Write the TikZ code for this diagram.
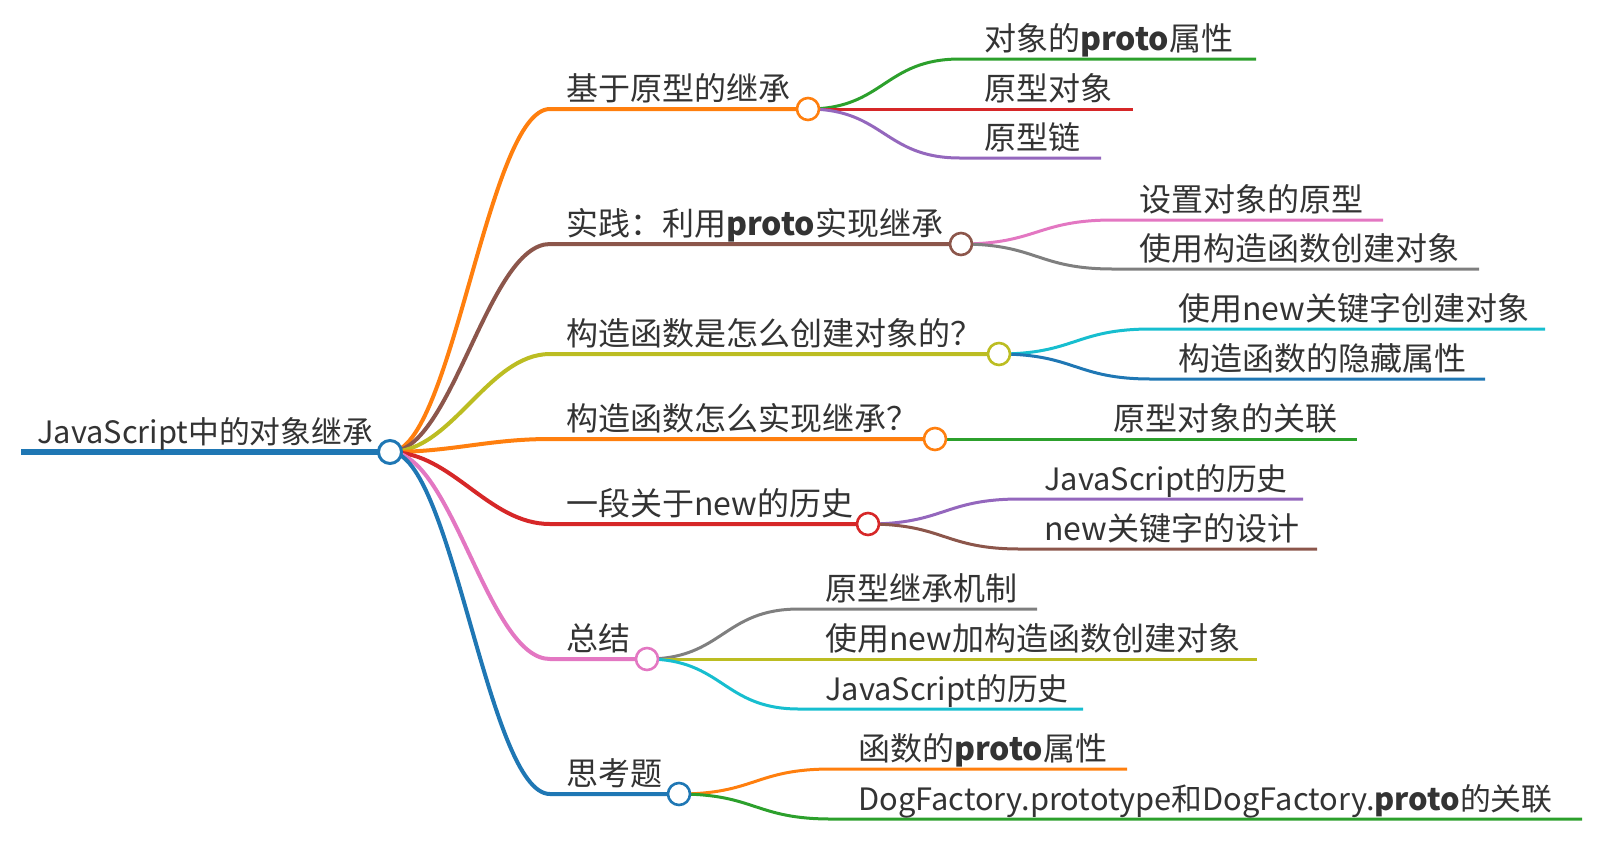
\documentclass[tikz,border=0pt]{standalone}
\usepackage{fontspec}
\setmainfont{Noto Sans CJK SC}
\usetikzlibrary{backgrounds}
\definecolor{cOrange}{HTML}{FF7F0E}
\definecolor{cBrown}{HTML}{8C564B}
\definecolor{cOlive}{HTML}{BCBD22}
\definecolor{cRed}{HTML}{D62728}
\definecolor{cPink}{HTML}{E377C2}
\definecolor{cBlue}{HTML}{1F77B4}
\definecolor{cGreen}{HTML}{2CA02C}
\definecolor{cPurple}{HTML}{9467BD}
\definecolor{cGray}{HTML}{7F7F7F}
\definecolor{cCyan}{HTML}{17BECF}
\tikzset{
  dot/.style={circle, draw=#1, fill=white, line width=2.6pt, minimum size=22pt, inner sep=0pt},
  lbl/.style={anchor=base west, inner sep=0pt, text=black!80, font=\fontsize{32}{36}\selectfont},
  narrow/.style={font=\fontsize{30.8}{36}\selectfont},
  trunk/.style={draw=#1, line width=6.5pt},
  limb/.style={draw=#1, line width=4pt},
  twig/.style={draw=#1, line width=3pt},
  bend/.style={to path={.. controls +(#1,0) and +(-#1,0) .. (\tikztotarget)}}
}

\begin{document}
\begin{tikzpicture}[x=1pt, y=-1pt]
\useasboundingbox (0,0) rectangle (1624,844);

% root
\coordinate (r0) at (21,452);
\node[dot=cBlue, minimum size=23pt, line width=3pt] (root) at (390,452) {};
\node[lbl, narrow] (rootT) at (37,443) {JavaScript中的对象继承};

% first level
\node[dot=cOrange] (b1) at (808,109) {};
\node[dot=cBrown] (b2) at (961,244) {};
\node[dot=cOlive] (b3) at (999,354) {};
\node[dot=cOrange] (b4) at (935,439) {};
\node[dot=cRed] (b5) at (868,524) {};
\node[dot=cPink] (b6) at (647,659) {};
\node[dot=cBlue] (b7) at (679,794) {};
\coordinate (h1) at (550,109);
\coordinate (h2) at (550,244);
\coordinate (h3) at (550,354);
\coordinate (h4) at (550,439);
\coordinate (h5) at (550,524);
\coordinate (h6) at (550,659);
\coordinate (h7) at (550,794);
\node[lbl] (t1) at (566,100) {基于原型的继承};
\node[lbl] (t2) at (566,235) {实践：利用\textbf{proto}实现继承};
\node[lbl] (t3) at (566,345) {构造函数是怎么创建对象的？};
\node[lbl] (t4) at (566,430) {构造函数怎么实现继承？};
\node[lbl] (t5) at (566,515) {一段关于new的历史};
\node[lbl] (t6) at (566,650) {总结};
\node[lbl] (t7) at (566,785) {思考题};

% second level
\coordinate (s11) at (960,59);   \coordinate (e11) at (1256,59);
\coordinate (s12) at (960,109);  \coordinate (e12) at (1133,109);
\coordinate (s13) at (960,158);  \coordinate (e13) at (1101,158);
\coordinate (s21) at (1113,220); \coordinate (e21) at (1383,220);
\coordinate (s22) at (1113,269); \coordinate (e22) at (1479,269);
\coordinate (s31) at (1151,329); \coordinate (e31) at (1545,329);
\coordinate (s32) at (1151,379); \coordinate (e32) at (1485,379);
\coordinate (s41) at (1087,439); \coordinate (e41) at (1357,439);
\coordinate (s51) at (1020,499); \coordinate (e51) at (1303,499);
\coordinate (s52) at (1020,549); \coordinate (e52) at (1317,549);
\coordinate (s61) at (799,609);  \coordinate (e61) at (1037,609);
\coordinate (s62) at (799,659);  \coordinate (e62) at (1257,659);
\coordinate (s63) at (799,709);  \coordinate (e63) at (1083,709);
\coordinate (s71) at (831,769);  \coordinate (e71) at (1127,769);
\coordinate (s72) at (831,819);  \coordinate (e72) at (1582,819);
\node[lbl] (t11) at (984,50) {对象的\textbf{proto}属性};
\node[lbl] (t12) at (984,100) {原型对象};
\node[lbl] (t13) at (984,149) {原型链};
\node[lbl] (t21) at (1139,211) {设置对象的原型};
\node[lbl] (t22) at (1139,260) {使用构造函数创建对象};
\node[lbl] (t31) at (1178,320) {使用new关键字创建对象};
\node[lbl] (t32) at (1178,370) {构造函数的隐藏属性};
\node[lbl] (t41) at (1113,430) {原型对象的关联};
\node[lbl, narrow] (t51) at (1044,490) {JavaScript的历史};
\node[lbl] (t52) at (1044,540) {new关键字的设计};
\node[lbl] (t61) at (825,600) {原型继承机制};
\node[lbl] (t62) at (825,650) {使用new加构造函数创建对象};
\node[lbl, narrow] (t63) at (825,700) {JavaScript的历史};
\node[lbl] (t71) at (858,760) {函数的\textbf{proto}属性};
\node[lbl, narrow] (t72) at (858,810) {DogFactory.prototype和DogFactory.\textbf{proto}的关联};

\begin{scope}[on background layer]
\draw[trunk=cBlue] (r0) -- (root.center);
\draw[limb=cOrange] (root.center) to[bend=62] (h1) -- (b1.center);
\draw[limb=cBrown] (root.center) to[bend=62] (h2) -- (b2.center);
\draw[limb=cOlive] (root.center) to[bend=62] (h3) -- (b3.center);
\draw[limb=cOrange] (root.center) to[bend=62] (h4) -- (b4.center);
\draw[limb=cRed] (root.center) to[bend=62] (h5) -- (b5.center);
\draw[limb=cPink] (root.center) to[bend=62] (h6) -- (b6.center);
\draw[limb=cBlue] (root.center) to[bend=62] (h7) -- (b7.center);
\draw[twig=cGreen] (b1.center) to[bend=76] (s11) -- (e11);
\draw[twig=cRed] (b1.center) to[bend=76] (s12) -- (e12);
\draw[twig=cPurple] (b1.center) to[bend=76] (s13) -- (e13);
\draw[twig=cPink] (b2.center) to[bend=76] (s21) -- (e21);
\draw[twig=cGray] (b2.center) to[bend=76] (s22) -- (e22);
\draw[twig=cCyan] (b3.center) to[bend=76] (s31) -- (e31);
\draw[twig=cBlue] (b3.center) to[bend=76] (s32) -- (e32);
\draw[twig=cGreen] (b4.center) to[bend=76] (s41) -- (e41);
\draw[twig=cPurple] (b5.center) to[bend=76] (s51) -- (e51);
\draw[twig=cBrown] (b5.center) to[bend=76] (s52) -- (e52);
\draw[twig=cGray] (b6.center) to[bend=76] (s61) -- (e61);
\draw[twig=cOlive] (b6.center) to[bend=76] (s62) -- (e62);
\draw[twig=cCyan] (b6.center) to[bend=76] (s63) -- (e63);
\draw[twig=cOrange] (b7.center) to[bend=76] (s71) -- (e71);
\draw[twig=cGreen] (b7.center) to[bend=76] (s72) -- (e72);
\end{scope}
\end{tikzpicture}
\end{document}
